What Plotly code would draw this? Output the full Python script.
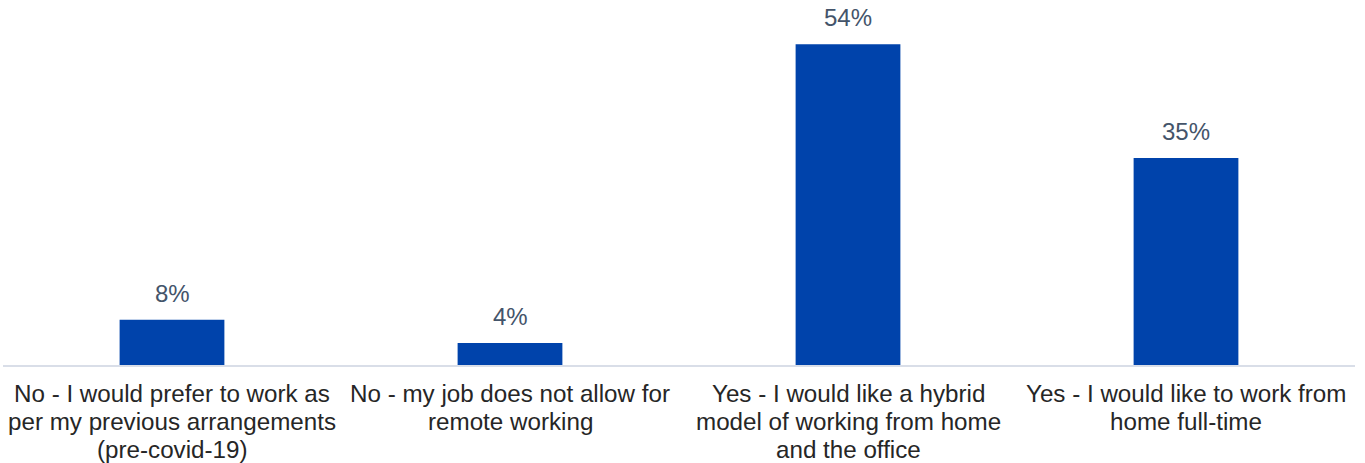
import plotly.graph_objects as go

categories = [
    "No - I would prefer to work as<br>per my previous arrangements<br>(pre-covid-19)",
    "No - my job does not allow for<br>remote working",
    "Yes - I would like a hybrid<br>model of working from home<br>and the office",
    "Yes - I would like to work from<br>home full-time",
]
values = [7.6, 3.7, 53.9, 34.8]
labels = ["8%", "4%", "54%", "35%"]

FONT = "Liberation Sans, Arial"
xs = list(range(len(categories)))

fig = go.Figure(go.Bar(
    x=xs,
    y=values,
    marker=dict(color="#0043AB", line=dict(width=0)),
    width=0.31,
    hoverinfo="skip",
))

annotations = []
for i, (v, lab) in enumerate(zip(values, labels)):
    annotations.append(dict(
        x=i, y=v, xref="x", yref="y", text=lab, showarrow=False,
        yanchor="bottom", yshift=11,
        font=dict(size=24, color="#44546A", family=FONT),
    ))
for i, cat in enumerate(categories):
    for j, line in enumerate(cat.split("<br>")):
        annotations.append(dict(
            x=i, y=0, xref="x", yref="y", text=line, showarrow=False,
            yanchor="middle", yshift=-28 * (j + 1),
            font=dict(size=24.2, color="#262626", family=FONT),
        ))

fig.update_layout(
    template="none",
    width=1365, height=463,
    margin=dict(l=3, r=10, t=8, b=98, autoexpand=False),
    plot_bgcolor="white", paper_bgcolor="white",
    showlegend=False,
    font=dict(family=FONT, color="#262626"),
    xaxis=dict(
        tickmode="array", tickvals=xs, showticklabels=False,
        range=[-0.5, 3.5], showgrid=False, zeroline=False, automargin=False,
        showline=True, linecolor="#D9DEE8", linewidth=2, ticks="",
    ),
    yaxis=dict(range=[0, 60], visible=False, automargin=False),
    annotations=annotations,
)
fig.write_html(
    "out.html",
    config={"displayModeBar": False},
    post_script="document.body.style.margin='0';document.body.style.overflow='hidden';",
)
